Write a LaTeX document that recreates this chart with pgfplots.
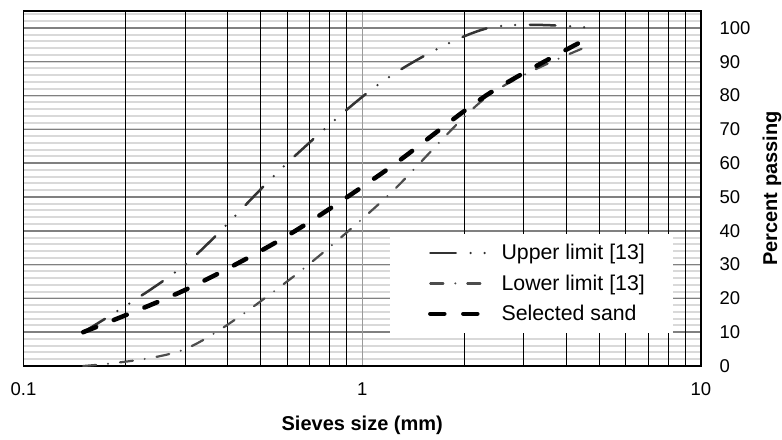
\documentclass[border=0pt]{standalone}
\usepackage{pgfplots}
\pgfplotsset{compat=1.18}
\usepackage{fontspec}
\setmainfont{Liberation Sans}
\usetikzlibrary{calc}
\definecolor{upc}{HTML}{333333}
\definecolor{loc}{HTML}{4D4D4D}
\definecolor{majg}{HTML}{808080}
\definecolor{ming}{HTML}{D9D9D9}
\begin{document}
\begin{tikzpicture}
% horizontal grid underneath
\begin{axis}[
  scale only axis, width=677.5bp, height=355bp,
  at={(0,0)}, anchor=south west,
  xmode=log, log basis x=10,
  xmin=0.1, xmax=10, ymin=0, ymax=105,
  major tick length=0pt, minor tick length=0pt,
  xtick=\empty,
  ytick={0,10,...,100}, yticklabels={},
  minor ytick={0,2,...,104},
  ymajorgrids, yminorgrids,
  minor y grid style={ming, line width=2bp},
  major y grid style={majg, line width=1.5bp},
  axis line style={draw=none},
]
\end{axis}
\begin{axis}[
  scale only axis, width=677.5bp, height=355bp,
  at={(0,0)}, anchor=south west,
  xmode=log, log basis x=10,
  xmin=0.1, xmax=10, ymin=0, ymax=105,
  major tick length=0pt, minor tick length=0pt,
  name=ax,
  xtick={0.1,1,10}, xticklabels={0.1,1,10},
  minor xtick={0.2,0.3,0.4,0.5,0.6,0.7,0.8,0.9,2,3,4,5,6,7,8,9},
  ytick={0,10,...,100},
  xmajorgrids, xminorgrids,
  /pgf/number format/assume math mode=true,
  axis line style={line width=1.5bp, black},
  minor x grid style={black, line width=1bp},
  major x grid style={majg!80, line width=1.3bp},
  yticklabel pos=right,
  tick label style={font=\fontsize{18.5bp}{20bp}\selectfont},
  yticklabel style={anchor=west, xshift=15bp},
  xticklabel style={anchor=north, yshift=-13bp},
  xlabel={\textbf{Sieves size (mm)}},
  ylabel={\textbf{Percent passing}},
  label style={font=\fontsize{20bp}{22bp}\selectfont},
  xlabel style={at={(axis description cs:0.5,0)}, anchor=center, yshift=-59bp},
  ylabel style={at={(axis description cs:1,0.5)}, anchor=center, yshift=-71bp},
  legend image code/.code={\path (0bp,0bp); \draw[#1] (12bp,0bp) -- (69bp,0bp);},
  legend style={at={(rel axis cs:0.9587,0.093)}, anchor=south east,
    fill=white, draw=none, font=\fontsize{21.3bp}{23bp}\selectfont,
    inner xsep=26bp, inner ysep=8.5bp, row sep=9.5bp, column sep=10bp,
    cells={anchor=west, inner xsep=0pt}},
]
\addplot[upc, line width=2.5bp, line cap=round, smooth,
  dash pattern=on 25.5bp off 14.8bp on 0bp off 14bp on 0bp off 14.8bp]
  coordinates {(0.15,10) (0.3,30) (0.6,60) (1.18,85) (2.36,100) (4.75,100)};
\addlegendentry{Upper limit [13]}
\addplot[loc, line width=2.2bp, line cap=round, smooth,
  dash pattern=on 13bp off 12bp on 0bp off 12bp]
  coordinates {(0.15,0) (0.3,5) (0.6,25) (1.18,50) (2.36,80) (4.75,95)};
\addlegendentry{Lower limit [13]}
\addplot[black, line width=4.5bp, line cap=round, smooth,
  dash pattern=on 14bp off 19bp]
  coordinates {(0.15,10) (0.3,22.5) (0.6,38.5) (1.18,58) (2.36,80.5) (4.75,97.5)};
\addlegendentry{Selected sand}
\end{axis}
\pgfresetboundingbox
\path[use as bounding box] ($(ax.south west)+(-23.5bp,-73.3bp)$) rectangle ($(ax.north east)+(81bp,11bp)$);
\end{tikzpicture}
\end{document}
